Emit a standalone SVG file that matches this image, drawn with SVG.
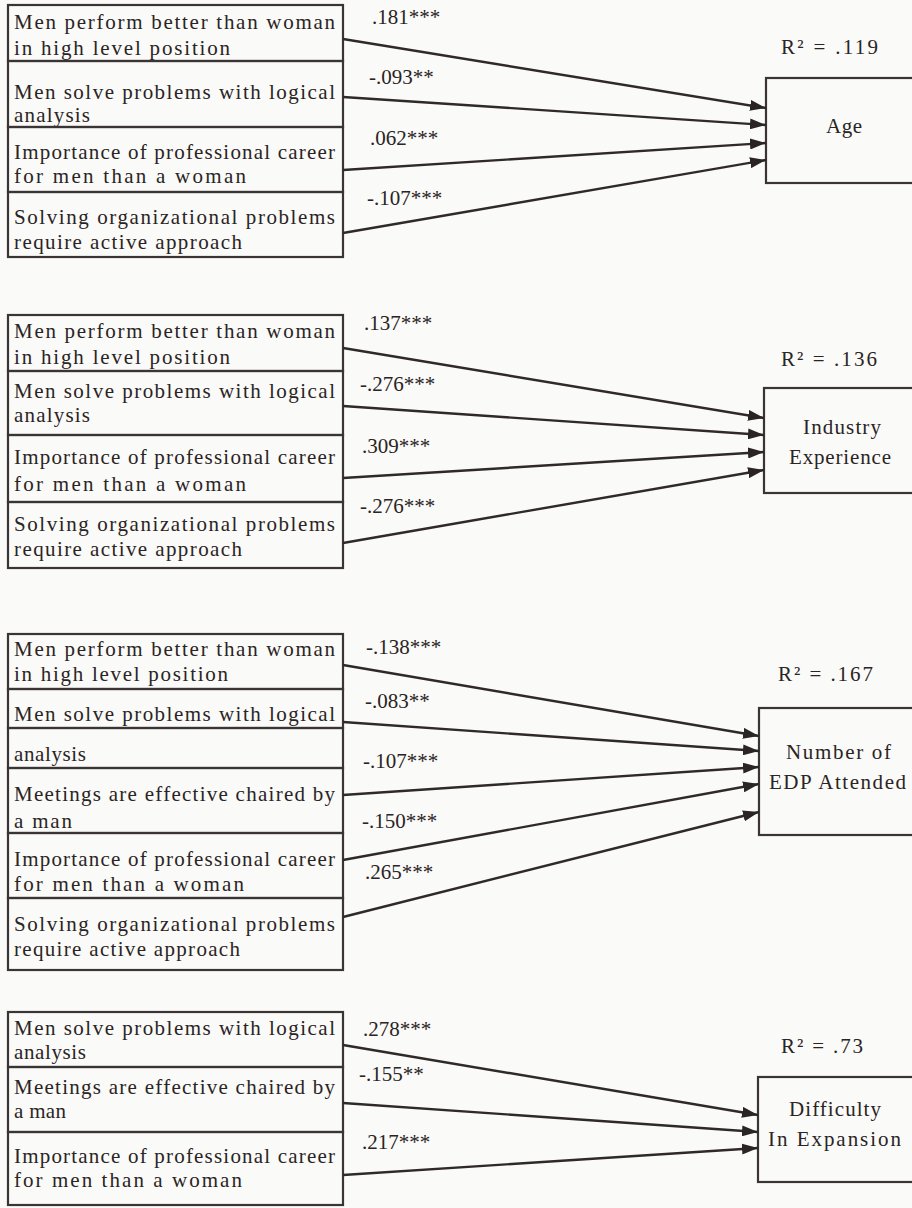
<svg xmlns="http://www.w3.org/2000/svg" width="912" height="1208" viewBox="0 0 912 1208">
<defs>
<style>
.bg{fill:#fafaf8}
.row{fill:none;stroke:#3a3434;stroke-width:2.2}
.tgt{fill:none;stroke:#3a3434;stroke-width:2.2}
.t{font-family:"Liberation Serif","Times New Roman",serif;font-size:21px;fill:#2a2424}
.lab{font-family:"Liberation Serif","Times New Roman",serif;font-size:21px;fill:#2a2424}
.edge{fill:none;stroke:#2f2929;stroke-width:2.4}
</style>
<marker id="arr" markerUnits="userSpaceOnUse" markerWidth="17" markerHeight="11" refX="16" refY="5.5" orient="auto">
<path d="M0,0 L16,5.5 L0,11 Z" fill="#2a2424"/>
</marker>
</defs>
<rect class="bg" x="0" y="0" width="912" height="1208"/>

<!-- Section 1 -->
<g id="s1-men-perform"><rect class="row" x="8" y="5" width="335" height="56"/>
<text class="t" x="14" y="29" textLength="321" lengthAdjust="spacing">Men perform better than woman</text>
<text class="t" x="14" y="55" textLength="216" lengthAdjust="spacing">in high level position</text></g>
<g id="s1-logical"><rect class="row" x="8" y="61" width="335" height="66"/>
<text class="t" x="14" y="99" textLength="321" lengthAdjust="spacing">Men solve problems with logical</text>
<text class="t" x="14" y="122" textLength="76" lengthAdjust="spacing">analysis</text></g>
<g id="s1-career"><rect class="row" x="8" y="127" width="335" height="65"/>
<text class="t" x="14" y="159" textLength="321" lengthAdjust="spacing">Importance of professional career</text>
<text class="t" x="14" y="183" textLength="232" lengthAdjust="spacing">for men than a woman</text></g>
<g id="s1-active"><rect class="row" x="8" y="192" width="335" height="65"/>
<text class="t" x="14" y="224" textLength="321" lengthAdjust="spacing">Solving organizational problems</text>
<text class="t" x="14" y="249" textLength="228" lengthAdjust="spacing">require active approach</text></g>
<g id="s1-age"><rect class="tgt" x="766" y="78" width="170" height="105"/>
<text class="t" x="826" y="133" textLength="36" lengthAdjust="spacing">Age</text>
<text class="t" x="781" y="54" textLength="97" lengthAdjust="spacing">R² = .119</text></g>

<!-- Section 2 -->
<g id="s2-men-perform"><rect class="row" x="8" y="315" width="335" height="56"/>
<text class="t" x="14" y="338" textLength="321" lengthAdjust="spacing">Men perform better than woman</text>
<text class="t" x="14" y="364" textLength="216" lengthAdjust="spacing">in high level position</text></g>
<g id="s2-logical"><rect class="row" x="8" y="371" width="335" height="64"/>
<text class="t" x="14" y="398" textLength="321" lengthAdjust="spacing">Men solve problems with logical</text>
<text class="t" x="14" y="422" textLength="76" lengthAdjust="spacing">analysis</text></g>
<g id="s2-career"><rect class="row" x="8" y="435" width="335" height="67"/>
<text class="t" x="14" y="464" textLength="321" lengthAdjust="spacing">Importance of professional career</text>
<text class="t" x="14" y="491" textLength="232" lengthAdjust="spacing">for men than a woman</text></g>
<g id="s2-active"><rect class="row" x="8" y="502" width="335" height="66"/>
<text class="t" x="14" y="531" textLength="321" lengthAdjust="spacing">Solving organizational problems</text>
<text class="t" x="14" y="556" textLength="228" lengthAdjust="spacing">require active approach</text></g>
<g id="s2-industry"><rect class="tgt" x="764" y="388" width="170" height="105"/>
<text class="t" x="803" y="434" textLength="78" lengthAdjust="spacing">Industry</text>
<text class="t" x="789" y="464" textLength="102" lengthAdjust="spacing">Experience</text>
<text class="t" x="781" y="366" textLength="96" lengthAdjust="spacing">R² = .136</text></g>

<!-- Section 3 -->
<g id="s3-men-perform"><rect class="row" x="8" y="634" width="335" height="55"/>
<text class="t" x="14" y="656" textLength="321" lengthAdjust="spacing">Men perform better than woman</text>
<text class="t" x="14" y="681" textLength="214" lengthAdjust="spacing">in high level position</text></g>
<g id="s3-logical"><rect class="row" x="8" y="689" width="335" height="39"/>
<text class="t" x="14" y="721" textLength="321" lengthAdjust="spacing">Men solve problems with logical</text></g>
<g id="s3-analysis"><rect class="row" x="8" y="728" width="335" height="40"/>
<text class="t" x="14" y="761" textLength="72" lengthAdjust="spacing">analysis</text></g>
<g id="s3-meetings"><rect class="row" x="8" y="768" width="335" height="65"/>
<text class="t" x="14" y="801" textLength="321" lengthAdjust="spacing">Meetings are effective chaired by</text>
<text class="t" x="14" y="828" textLength="58" lengthAdjust="spacing">a man</text></g>
<g id="s3-career"><rect class="row" x="8" y="833" width="335" height="65"/>
<text class="t" x="14" y="866" textLength="321" lengthAdjust="spacing">Importance of professional career</text>
<text class="t" x="14" y="891" textLength="230" lengthAdjust="spacing">for men than a woman</text></g>
<g id="s3-active"><rect class="row" x="8" y="898" width="335" height="72"/>
<text class="t" x="14" y="931" textLength="321" lengthAdjust="spacing">Solving organizational problems</text>
<text class="t" x="14" y="956" textLength="226" lengthAdjust="spacing">require active approach</text></g>
<g id="s3-edp"><rect class="tgt" x="759" y="708" width="175" height="127"/>
<text class="t" x="786" y="759" textLength="105" lengthAdjust="spacing">Number of</text>
<text class="t" x="769" y="789" textLength="137" lengthAdjust="spacing">EDP Attended</text>
<text class="t" x="778" y="681" textLength="95" lengthAdjust="spacing">R² = .167</text></g>

<!-- Section 4 -->
<g id="s4-logical"><rect class="row" x="8" y="1012" width="335" height="55"/>
<text class="t" x="14" y="1035" textLength="321" lengthAdjust="spacing">Men solve problems with logical</text>
<text class="t" x="14" y="1059" textLength="72" lengthAdjust="spacing">analysis</text></g>
<g id="s4-meetings"><rect class="row" x="8" y="1067" width="335" height="65"/>
<text class="t" x="14" y="1094" textLength="321" lengthAdjust="spacing">Meetings are effective chaired by</text>
<text class="t" x="14" y="1118" textLength="52" lengthAdjust="spacing">a man</text></g>
<g id="s4-career"><rect class="row" x="8" y="1132" width="335" height="73"/>
<text class="t" x="14" y="1163" textLength="321" lengthAdjust="spacing">Importance of professional career</text>
<text class="t" x="14" y="1187" textLength="228" lengthAdjust="spacing">for men than a woman</text></g>
<g id="s4-difficulty"><rect class="tgt" x="758" y="1077" width="175" height="105"/>
<text class="t" x="789" y="1116" textLength="92" lengthAdjust="spacing">Difficulty</text>
<text class="t" x="768" y="1146" textLength="133" lengthAdjust="spacing">In Expansion</text>
<text class="t" x="781" y="1053" textLength="82" lengthAdjust="spacing">R² = .73</text></g>

<!-- Connectors -->
<g id="connectors">
<line class="edge" x1="343" y1="39" x2="766" y2="108" marker-end="url(#arr)"/>
<line class="edge" x1="343" y1="97" x2="766" y2="125" marker-end="url(#arr)"/>
<line class="edge" x1="343" y1="170" x2="766" y2="143" marker-end="url(#arr)"/>
<line class="edge" x1="343" y1="233" x2="766" y2="160" marker-end="url(#arr)"/>
<text class="lab" x="372" y="24">.181***</text>
<text class="lab" x="369" y="84">-.093**</text>
<text class="lab" x="370" y="145">.062***</text>
<text class="lab" x="367" y="205">-.107***</text>

<line class="edge" x1="343" y1="348" x2="764" y2="418" marker-end="url(#arr)"/>
<line class="edge" x1="343" y1="406" x2="764" y2="435" marker-end="url(#arr)"/>
<line class="edge" x1="343" y1="478" x2="764" y2="452" marker-end="url(#arr)"/>
<line class="edge" x1="343" y1="543" x2="764" y2="470" marker-end="url(#arr)"/>
<text class="lab" x="364" y="330">.137***</text>
<text class="lab" x="360" y="391">-.276***</text>
<text class="lab" x="362" y="453">.309***</text>
<text class="lab" x="360" y="513">-.276***</text>

<line class="edge" x1="343" y1="665" x2="759" y2="736" marker-end="url(#arr)"/>
<line class="edge" x1="343" y1="722" x2="759" y2="751" marker-end="url(#arr)"/>
<line class="edge" x1="343" y1="795" x2="759" y2="767" marker-end="url(#arr)"/>
<line class="edge" x1="343" y1="860" x2="759" y2="784" marker-end="url(#arr)"/>
<line class="edge" x1="343" y1="917" x2="759" y2="812" marker-end="url(#arr)"/>
<text class="lab" x="366" y="654">-.138***</text>
<text class="lab" x="365" y="708">-.083**</text>
<text class="lab" x="363" y="768">-.107***</text>
<text class="lab" x="362" y="828">-.150***</text>
<text class="lab" x="365" y="879">.265***</text>

<line class="edge" x1="343" y1="1045" x2="758" y2="1115" marker-end="url(#arr)"/>
<line class="edge" x1="343" y1="1103" x2="758" y2="1132" marker-end="url(#arr)"/>
<line class="edge" x1="343" y1="1175" x2="758" y2="1148" marker-end="url(#arr)"/>
<text class="lab" x="363" y="1036">.278***</text>
<text class="lab" x="359" y="1081">-.155**</text>
<text class="lab" x="362" y="1149">.217***</text>
</g>
</svg>
